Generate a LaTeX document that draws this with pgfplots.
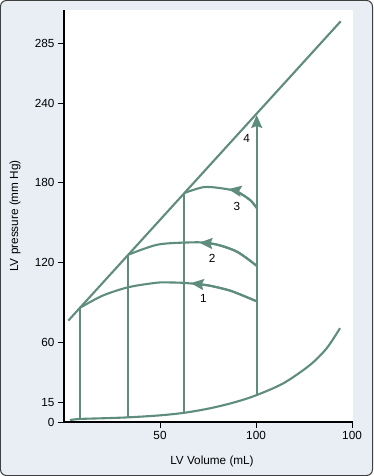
\documentclass[border=0pt]{standalone}
\usepackage{pgfplots}
\pgfplotsset{compat=1.18}
\usepackage{fontspec}
\setmainfont{Liberation Sans}
\usetikzlibrary{arrows.meta}
\definecolor{lvg}{RGB}{95,141,125}
\definecolor{bgc}{RGB}{232,238,244}
\begin{document}
\begin{tikzpicture}[x=1bp,y=1bp]
\draw[fill=bgc, draw=black!75, line width=1bp, rounded corners=6bp] (-63.5,-53.5) rectangle (308.5,421.5);
\begin{axis}[
  at={(0,0)}, anchor=south west,
  scale only axis, width=289bp, height=412bp,
  xmin=0, xmax=150.5, ymin=0, ymax=310,
  axis x line=bottom, axis y line=left,
  axis line style={-, line width=1.1bp, black},
  axis background/.style={fill=white},
  xtick={50,100,150}, xticklabels={50,100,100},
  ytick={0,15,60,120,180,240,285},
  tick align=outside,
  major tick length=6bp,
  tick style={black, line width=0.8bp},
  ticklabel style={font=\fontsize{11.8}{14}\selectfont},
  /pgf/number format/assume math mode=true,
  xlabel={LV Volume (mL)}, ylabel={LV pressure (mm Hg)},
  label style={font=\fontsize{11.8}{14}\selectfont},
  xlabel style={at={(axis description cs:0.512,-0.0947)}, anchor=center},
  ylabel style={at={(axis description cs:-0.1696,0.5)}, anchor=center},
  cycle list={{lvg, no markers, line width=2.1bp}},
  every axis plot/.append style={lvg, no markers, line width=2.1bp},
  clip=false,
]
% ESPVR
\addplot[] coordinates {(2.26,76.3) (144.1,301.5)};
% EDPVR
\addplot[smooth] coordinates {(3.1,1.5) (8.3,2.3) (20,2.8) (33.5,3.5) (50,5) (63,7.0) (76,10.3) (88,14.5) (99.5,19.8) (114.2,29.1) (128.1,42.9) (136.8,55.5) (143.75,70.6)};
% verticals
\addplot[] coordinates {(8.3,2.3) (8.3,85.9)};
\addplot[] coordinates {(33.5,3.5) (33.5,125.9)};
\addplot[] coordinates {(62.7,7.0) (62.7,172.3)};
\addplot[-{Stealth[length=13bp,width=11bp,inset=2bp]}] coordinates {(100.35,20.0) (100.35,231)};
% curve 1
\addplot[smooth] coordinates {(100.35,90.8) (90,97) (84.7,99.6) (75,102.8) (63,104.6) (55,105) (48.3,104.8) (33.5,101.4) (20,95) (8.3,85.9)};
\addplot[smooth,-{Stealth[length=13bp,width=11bp,inset=2bp]}] coordinates {(100.35,90.8) (90,97) (84.7,99.6) (75,102.8) (66,104.5)};
% curve 2
\addplot[smooth] coordinates {(100.35,117.5) (90,128.2) (76,134.6) (63,135) (48.3,133.3) (33.5,125.9)};
\addplot[smooth,-{Stealth[length=13bp,width=11bp,inset=2bp]}] coordinates {(100.35,117.5) (90,128.2) (80,133.4) (70.5,134.9)};
% curve 3
\addplot[smooth] coordinates {(100.35,161) (96.9,167) (90,173.4) (81.25,176) (72.6,176.7) (62.7,172.3)};
\addplot[smooth,-{Stealth[length=13bp,width=11bp,inset=2bp]}] coordinates {(100.35,161) (96.9,167) (90,173.4) (85.6,175.2)};
% labels
\node[font=\fontsize{11.8}{14}\selectfont] at (axis cs:72.6,93) {1};
\node[font=\fontsize{11.8}{14}\selectfont] at (axis cs:77.2,123) {2};
\node[font=\fontsize{11.8}{14}\selectfont] at (axis cs:90,162) {3};
\node[font=\fontsize{11.8}{14}\selectfont] at (axis cs:95.1,213) {4};
\end{axis}
\end{tikzpicture}
\end{document}
